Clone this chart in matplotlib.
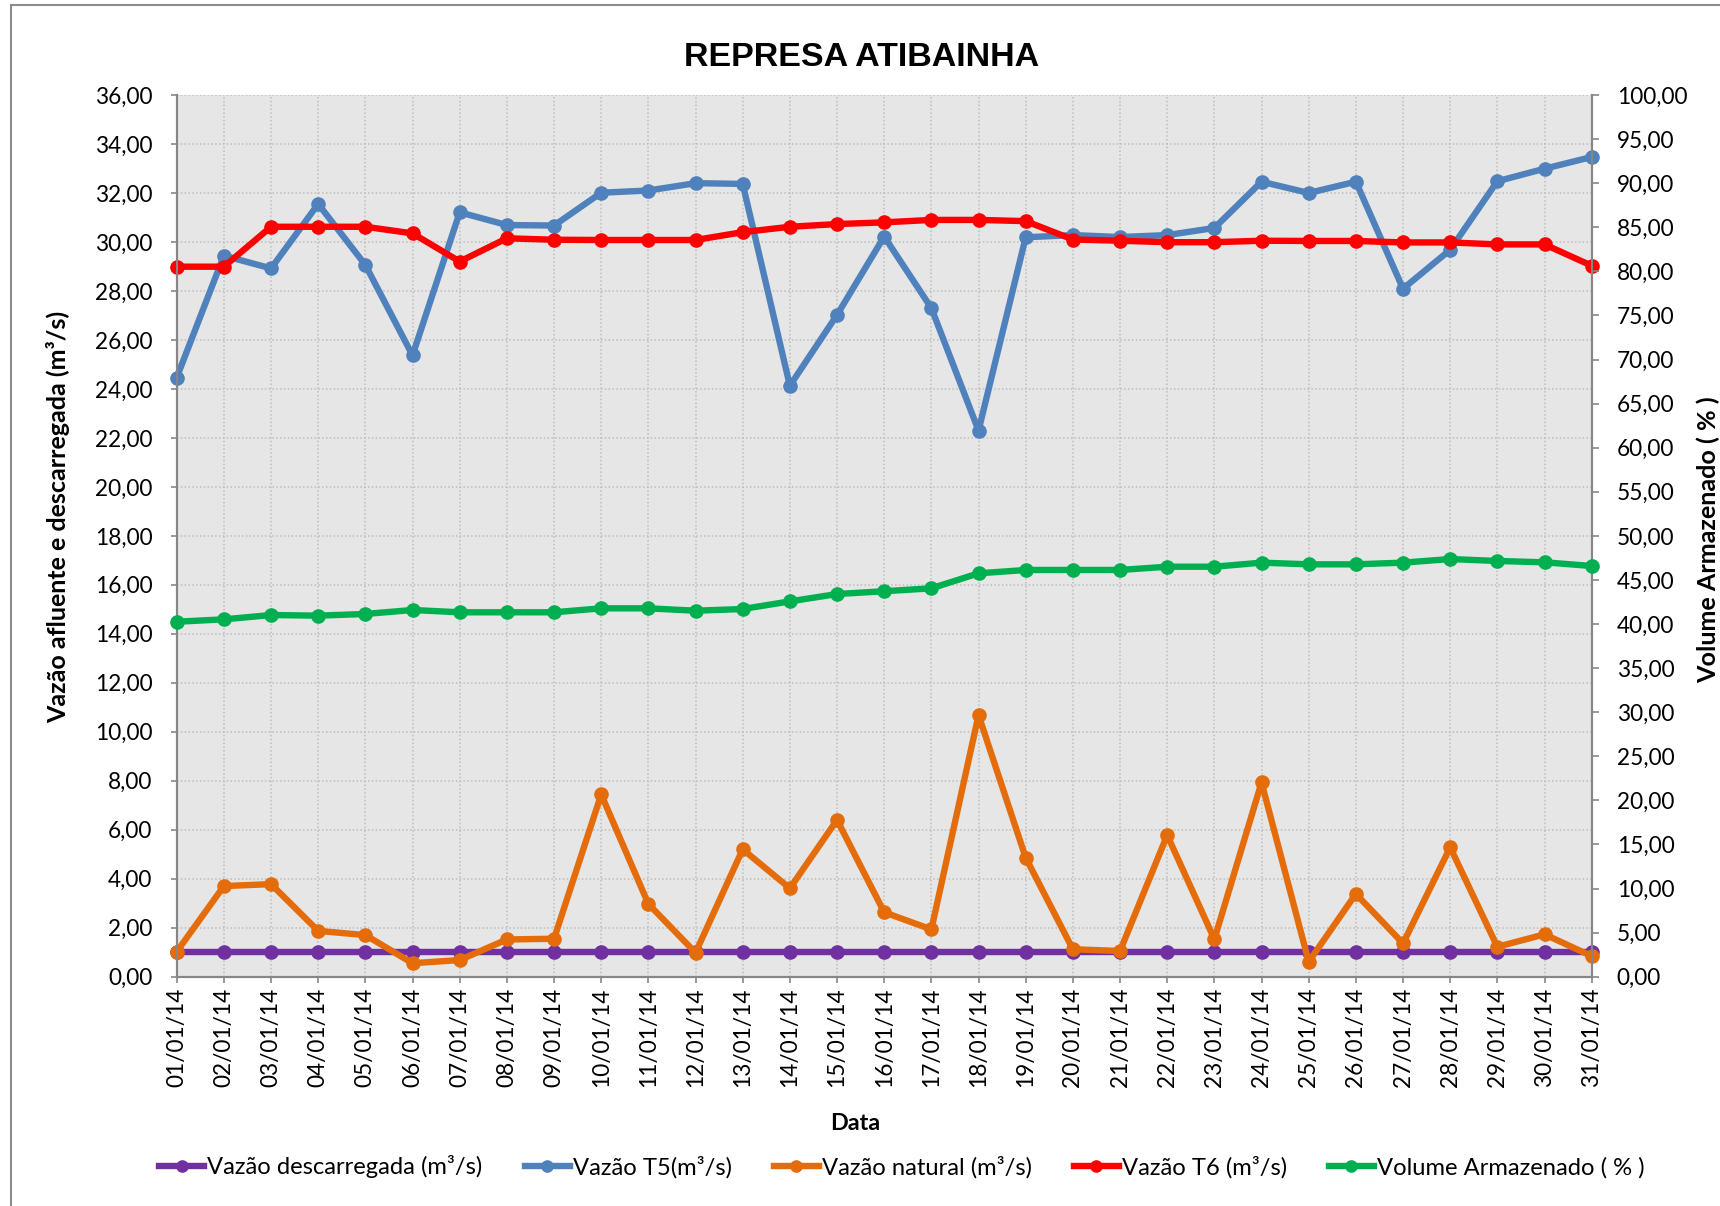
import matplotlib
matplotlib.use("Agg")
import matplotlib.pyplot as plt
from matplotlib.ticker import FixedLocator, FuncFormatter
from matplotlib.lines import Line2D
from matplotlib.patches import Rectangle

# ---------------- data ----------------
dates = ['01/01/14', '02/01/14', '03/01/14', '04/01/14', '05/01/14', '06/01/14', '07/01/14',
         '08/01/14', '09/01/14', '10/01/14', '11/01/14', '12/01/14', '13/01/14', '14/01/14',
         '15/01/14', '16/01/14', '17/01/14', '18/01/14', '19/01/14', '20/01/14', '21/01/14',
         '22/01/14', '23/01/14', '24/01/14', '25/01/14', '26/01/14', '27/01/14', '28/01/14',
         '29/01/14', '30/01/14', '31/01/14']

vazao_descarregada = [1.00, 1.00, 1.00, 1.00, 1.00, 1.00, 1.00, 1.00, 1.00, 1.00, 1.00,
                      1.00, 1.00, 1.00, 1.00, 1.00, 1.00, 1.00, 1.00, 1.00, 1.00, 1.00,
                      1.00, 1.00, 1.00, 1.00, 1.00, 1.00, 1.00, 1.00, 1.00]

vazao_t5 = [24.46, 29.44, 28.92, 31.55, 29.06, 25.37, 31.21, 30.69, 30.67, 32.01, 32.10,
            32.40, 32.37, 24.13, 27.02, 30.22, 27.30, 22.30, 30.19, 30.28, 30.20, 30.28,
            30.57, 32.46, 32.00, 32.46, 28.09, 29.68, 32.48, 32.99, 33.47]

vazao_natural = [1.02, 3.70, 3.78, 1.87, 1.70, 0.55, 0.68, 1.52, 1.55, 7.44, 2.97,
                 0.98, 5.20, 3.61, 6.40, 2.63, 1.93, 10.68, 4.86, 1.12, 1.05, 5.78,
                 1.53, 7.93, 0.61, 3.38, 1.36, 5.28, 1.22, 1.73, 0.84]

vazao_t6 = [28.99, 28.99, 30.62, 30.62, 30.62, 30.35, 29.20, 30.15, 30.09, 30.08, 30.08,
            30.08, 30.40, 30.62, 30.73, 30.80, 30.90, 30.90, 30.85, 30.10, 30.05, 29.99,
            29.99, 30.05, 30.04, 30.04, 29.98, 29.98, 29.90, 29.90, 29.03]

volume_armazenado = [40.26, 40.53, 41.02, 40.95, 41.14, 41.59, 41.33, 41.33, 41.33, 41.78, 41.78,
                     41.51, 41.70, 42.57, 43.40, 43.72, 44.05, 45.75, 46.13, 46.13, 46.13, 46.50,
                     46.50, 46.96, 46.77, 46.77, 46.96, 47.37, 47.15, 47.00, 46.58]

left_ticks = [0, 2, 4, 6, 8, 10, 12, 14, 16, 18, 20, 22, 24, 26, 28, 30, 32, 34, 36]
right_ticks = [0, 5, 10, 15, 20, 25, 30, 35, 40, 45, 50, 55, 60, 65, 70, 75, 80, 85, 90, 95, 100]

title = 'REPRESA ATIBAINHA'
ylabel_left = 'Vazão afluente e descarregada (m³/s)'
ylabel_right = 'Volume Armazenado ( % )'
xlabel = 'Data'
labels = ['Vazão descarregada (m³/s)', 'Vazão T5(m³/s)', 'Vazão natural (m³/s)',
          'Vazão T6 (m³/s)', 'Volume Armazenado ( % )']

# ---------------- style ----------------
C_PURPLE = '#7030A0'
C_BLUE = '#4F81BD'
C_ORANGE = '#E46C0A'
C_RED = '#FF0000'
C_GREEN = '#00B050'
SPINE = '#868686'
GRID = '#bdbdbd'
BG = '#e6e6e6'
FONT = ['Lato', 'DejaVu Sans']
TFONT = ['Liberation Sans', 'DejaVu Sans']
LW = 4.6
MS = 9.5

W, H = 1720, 1206
fig = plt.figure(figsize=(W / 100, H / 100), dpi=100)
renderer = fig.canvas.get_renderer()


def fit(txt, target_px, family, weight='normal'):
    t = fig.text(0, 0, txt, fontsize=20, family=family, weight=weight)
    w = t.get_window_extent(renderer).width
    t.remove()
    return 20.0 * target_px / w


fs_tick = fit('36,00', 57.5, FONT)
fs_xtick = fit('01/01/14', 99, FONT)
fs_leg = fit(labels[0], 276, FONT)
fs_title = fit(title, 355, TFONT, 'bold')
fs_ylab = fit(ylabel_left, 411, FONT, 'bold')
fs_ylab2 = fit(ylabel_right, 287, FONT, 'bold')
fs_xlab = fit(xlabel, 50, FONT, 'bold')

# axes placement
ax = fig.add_axes([176.7 / W, 1 - 976.7 / H, (1591.7 - 176.7) / W, (976.7 - 95) / H])
ax.set_facecolor(BG)
ax2 = ax.twinx()

x = list(range(len(dates)))
kw = dict(lw=LW, marker='o', ms=MS, solid_joinstyle='round', solid_capstyle='round', clip_on=False)
ax.plot(x, vazao_descarregada, color=C_PURPLE, label=labels[0], zorder=3, **kw)
ax.plot(x, vazao_t5, color=C_BLUE, label=labels[1], zorder=4, **kw)
ax.plot(x, vazao_natural, color=C_ORANGE, label=labels[2], zorder=5, **kw)
ax.plot(x, vazao_t6, color=C_RED, label=labels[3], zorder=6, **kw)
ax2.plot(x, volume_armazenado, color=C_GREEN, label=labels[4], zorder=3, **kw)

ax.set_xlim(0, len(dates) - 1)
ax.set_ylim(0, 36)
ax2.set_ylim(0, 100)

comma = FuncFormatter(lambda v, p: f'{v:.2f}'.replace('.', ','))
ax.yaxis.set_major_locator(FixedLocator(left_ticks))
ax.yaxis.set_major_formatter(comma)
ax2.yaxis.set_major_locator(FixedLocator(right_ticks))
ax2.yaxis.set_major_formatter(comma)
ax.set_xticks(x)
ax.set_xticklabels(dates, rotation=90, fontsize=fs_xtick, family=FONT)

for lab in ax.get_yticklabels():
    lab.set_family(FONT)
for lab in ax2.get_yticklabels():
    lab.set_family(FONT)

ax.tick_params(axis='y', labelsize=fs_tick, length=4.5, width=1.2, color=SPINE, pad=13, direction='out')
ax2.tick_params(axis='y', labelsize=fs_tick, length=5, width=1.2, color=SPINE, pad=13, direction='out')
ax.tick_params(axis='x', length=4.5, width=1.2, color=SPINE, pad=3.5, direction='out')

ax.grid(True, axis='both', linestyle=(0, (1, 1.5)), color=GRID, lw=1.1)
ax.set_axisbelow(True)

for a in (ax, ax2):
    a.spines['top'].set_visible(False)
    for s in ('left', 'right', 'bottom'):
        a.spines[s].set_color(SPINE)
        a.spines[s].set_linewidth(1.5)

# texts
fig.text(0.501, 1 - 57 / H, title, ha='center', va='center', fontsize=fs_title,
         weight='bold', family=TFONT)
fig.text(58 / W, 1 - 517 / H, ylabel_left, rotation=90, ha='center', va='center',
         fontsize=fs_ylab, weight='bold', family=FONT)
fig.text(1708 / W, 1 - 540 / H, ylabel_right, rotation=90, ha='center', va='center',
         fontsize=fs_ylab2, weight='bold', family=FONT)
fig.text(855 / W, 1 - 1123 / H, xlabel, ha='center', va='center', fontsize=fs_xlab,
         weight='bold', family=FONT)

# legend
fs_px = fs_leg * 100 / 72
handles = [Line2D([], [], color=c, lw=LW, marker='o', ms=MS * 0.85)
           for c in (C_PURPLE, C_BLUE, C_ORANGE, C_RED, C_GREEN)]
fig.legend(handles, labels, loc='center', bbox_to_anchor=(902 / W, 1 - 1167 / H), ncol=5,
           frameon=False, prop={'family': FONT, 'size': fs_leg},
           handlelength=45 / fs_px, handletextpad=3 / fs_px, columnspacing=42 / fs_px,
           borderpad=0, borderaxespad=0)

# outer chart border
fig.patches.append(Rectangle((11 / W, -0.1), 1.2, 1.1 - 5.5 / H, transform=fig.transFigure,
                             fill=False, edgecolor='#8c8c8c', lw=1.5))

fig.savefig('out.png', dpi=100, facecolor='white')
